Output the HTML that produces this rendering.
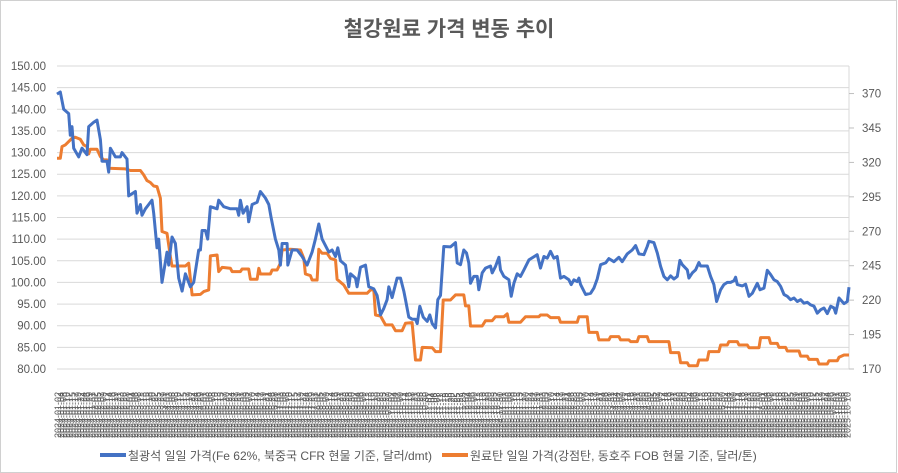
<!DOCTYPE html>
<html><head><meta charset="utf-8">
<style>
body{margin:0;background:#fff;}
svg{display:block;font-family:"Liberation Sans","Noto Sans CJK KR",sans-serif;}
</style></head>
<body>
<svg id="chart" width="898" height="473" viewBox="0 0 898 473">
<rect x="0.5" y="0.5" width="896" height="472" fill="#fff" stroke="#d0d0d0"/>
<text x="449" y="36" text-anchor="middle" font-size="21" font-weight="bold" fill="#595959" font-family="'Liberation Sans','Noto Sans CJK KR',sans-serif">철강원료 가격 변동 추이</text>
<g id="grid"></g>
<g id="yleft"></g>
<g id="yright"></g>
<g id="xlabels"></g>
<g id="series"></g>
<g>
<g>
<line x1="100" y1="455" x2="126" y2="455" stroke="#4472c4" stroke-width="4"/>
<text x="128" y="460" font-size="12" fill="#595959">철광석 일일 가격(Fe 62%, 북중국 CFR 현물 기준, 달러/dmt)</text>
</g>
<g>
<line x1="442" y1="455" x2="468" y2="455" stroke="#ed7d31" stroke-width="4"/>
<text x="470" y="460" font-size="12" fill="#595959">원료탄 일일 가격(강점탄, 동호주 FOB 현물 기준, 달러/톤)</text>
</g>
</g>
</svg>
<script>
const leftTicks=[80,85,90,95,100,105,110,115,120,125,130,135,140,145,150];
const rightTicks=[170,195,220,245,270,295,320,345,370];
const ironT=[170,180,190,205,210,215,220,235,245,260,265,280,290,300,305,320,325,330,345,360,365,380,385,395,405,410,420,425,435,445,455,460,470,475,485,500,505,515,525,535,545,555,570,580,595,600,605,615,622,630,650,655,670,690,710,715,720,728,740,745,755,770,780,795,805,812,825,835,840,845,860,862,875,890,905,920,935,945,955,965,985,995,1005,1012,1020,1035,1045,1050,1065,1070,1080,1095,1105,1120,1130,1140,1150,1160,1165,1175,1190,1200,1210,1215,1225,1235,1245,1250,1258,1268,1280,1288,1295,1305,1312,1320,1330,1350,1365,1370,1380,1390,1398,1405,1410,1420,1430,1435,1445,1455,1470,1475,1485,1495,1500,1510,1525,1532,1540,1550,1560,1570,1585,1610,1620,1630,1640,1650,1660,1670,1680,1690,1705,1712,1720,1730,1735,1740,1755,1770,1780,1790,1800,1815,1825,1840,1855,1865,1880,1895,1905,1915,1930,1940,1945,1960,1970,1980,1990,2000,2010,2020,2030,2038,2045,2060,2065,2075,2085,2095,2100,2120,2130,2140,2148,2160,2170,2180,2190,2200,2205,2210,2225,2235,2245,2255,2270,2278,2290,2300,2310,2320,2330,2340,2350,2360,2370,2380,2390,2400,2410,2420,2430,2440,2450,2460,2470,2480,2490,2500,2505,2515,2530,2540,2545];
const ironV=[143.5,144,140,139,134,136,131,129,131,129.5,136,137,137.5,133,128,128,125.5,131,129,129,130,128.5,120,120.5,121,116,118,115.5,117,118,119,116,108,110,100,107,104,110.5,109,101,98,102,99,100,107.5,107.5,112,112,110,117.5,117,119,117.5,117,117,115.5,119,116,117.5,114,118,118.5,121,119.5,118,115,110,107.5,104,109,109,104,107.5,107.5,106,104,107,110,113.5,110,107,107.5,106,108,105,104,99,102,101,99,103.5,104,99,98.5,97,92.5,94,96,99,96.5,101,101,98,96,92,91.5,91.5,90.5,94.5,92,91,92.5,90.5,89.5,96,97,108.3,108.2,109.2,104.5,104.1,107.5,106.8,104.5,99.8,101.4,101.4,98.3,102.2,103.3,103.8,102.2,103.7,105.8,102.9,101.4,100.6,96.8,99.8,102,101.4,102.9,105.2,106.4,103.3,106,105.6,107.2,105.6,106,101,101.4,100.6,99.5,100.6,100.2,101,99.5,97.2,97.5,98.7,100.8,104.1,104.5,105.5,104.8,105.8,104.8,106.6,107.5,108.5,106.6,106.4,108.3,109.5,109.2,106.8,103.7,101.4,100.6,101.5,100.8,101.4,105.1,104.1,102.9,101,102.2,102.9,104.6,103.8,103.8,101.4,99.5,95.6,98.3,99.5,100,100,100.4,101.2,99.5,99.2,99.6,96.8,97.5,99.8,98.3,98.7,102.8,101.8,100.6,100.2,99.1,97.2,96.8,96,96.4,95.6,96,95.2,95.4,94.8,94.5,92.9,93.7,94.1,92.8,94.5,94.1,92.9,96.4,95.1,95.6,98.9];
const coalT=[170,180,185,195,205,215,225,240,250,260,265,270,290,300,310,320,325,375,390,420,430,440,450,460,470,480,485,500,510,515,555,565,575,600,610,625,630,650,655,665,690,695,720,725,745,750,770,775,780,810,815,830,840,845,870,900,910,915,930,935,950,955,965,980,990,1005,1010,1030,1045,1100,1110,1120,1125,1140,1155,1175,1185,1205,1215,1235,1245,1260,1265,1295,1305,1320,1328,1350,1365,1390,1395,1405,1410,1445,1455,1475,1485,1510,1520,1525,1560,1575,1615,1620,1640,1650,1675,1680,1730,1735,1760,1765,1790,1795,1825,1830,1855,1860,1885,1890,1910,1915,1940,1945,2005,2010,2035,2040,2060,2065,2090,2095,2120,2125,2155,2160,2180,2185,2210,2215,2240,2245,2275,2280,2305,2310,2330,2335,2355,2360,2395,2400,2420,2425,2450,2455,2480,2485,2510,2515,2530,2545];
const coalV=[323,323,331.5,332.7,335.1,337.5,338.3,336.8,332.7,331.5,326.2,329.6,329.6,324.2,321.8,321.8,315.8,315.3,314.1,314.1,310.9,306.8,305.4,302.9,302.4,294,269.8,268.5,251.6,244.8,244.8,246.8,223.8,224.2,226.2,227.4,252.1,252.8,240.7,243.8,243.1,240.7,240.7,242.6,242.6,235.1,235.1,243.1,239,239,241.9,241.9,246.8,256.4,256.9,256.4,250.4,239,237.8,234.6,234.6,256.9,254,254,250.4,249.2,235.1,231,225,225,227.4,227.4,209.2,208.5,202,202,197.8,197.8,203.2,203.7,176.5,176.5,185.7,185.5,182.6,182.6,220.1,220.1,223.8,223.8,215.8,215.8,201.2,201.2,205.1,205.1,208,208,210,203.9,203.9,208,208,209.2,209.2,207.3,207.3,203.9,203.9,208,208,196.6,196.6,191.1,191.1,193.5,193.5,191.1,191.1,189.9,189.9,193.5,193.5,189.9,189.9,181.9,181.9,174.6,174.6,172.4,172.4,176.5,176.5,182.6,182.6,187.4,187.4,189.9,189.9,187.4,187.4,185.5,185.5,192.8,192.8,188.6,188.6,185.7,185.7,183.1,183.1,179.4,179.4,177,177,173.6,173.6,176,176,178.5,180.2,180.2];

const X0=57,X1=849,T0=170,T1=2545;
const xs=t=>X0+(t-T0)/(T1-T0)*(X1-X0);
const yL=v=>66+(150-v)*303/70;
const yR=v=>369-(v-170)*303/220;
const NS='http://www.w3.org/2000/svg';
function mk(tag,attrs,parent,txt){const e=document.createElementNS(NS,tag);for(const k in attrs)e.setAttribute(k,attrs[k]);if(txt!==undefined)e.textContent=txt;parent.appendChild(e);return e;}
const grid=document.getElementById('grid'),yl=document.getElementById('yleft'),yr=document.getElementById('yright'),xl=document.getElementById('xlabels'),ser=document.getElementById('series');
leftTicks.forEach(v=>{
  const g=mk('line',{x1:X0,x2:X1,y1:yL(v),y2:yL(v),stroke:'#d9d9d9','stroke-width':1},grid);
  
  
  const t=mk('text',{x:46,y:yL(v)+4,'text-anchor':'end','font-size':11.5,fill:'#595959'},yl,v.toFixed(2));
  
  
});
const ax=mk('line',{x1:X1,x2:X1,y1:66,y2:369,stroke:'#d9d9d9'},yr);


rightTicks.forEach(v=>{
  mk('line',{x1:X1,x2:X1+5,y1:yR(v),y2:yR(v),stroke:'#bfbfbf'},yr);
  const t=mk('text',{x:862,y:yR(v)+4,'font-size':11.5,fill:'#595959'},yr,String(v));
  
  
});
let d=new Date(Date.UTC(2024,0,2));
for(let x=X0+1;x<X1;x+=2.85){
  while(d.getUTCDay()===0||d.getUTCDay()===6)d=new Date(d.getTime()+86400000);
  const s=d.toISOString().slice(0,10);
  const t=mk('text',{transform:`translate(${x+3},438) rotate(-90)`,'font-size':9,fill:'#595959'},xl,s);
  
  
  d=new Date(d.getTime()+2*86400000);
}
function path(T,V,fy){return T.map((t,k)=>(k?'L':'M')+xs(t).toFixed(1)+' '+fy(V[k]).toFixed(1)).join(' ');}
const pc=mk('path',{d:path(coalT,coalV,yR),fill:'none',stroke:'#ed7d31','stroke-width':3,'stroke-linejoin':'round'},ser);


const pi=mk('path',{d:path(ironT,ironV,yL),fill:'none',stroke:'#4472c4','stroke-width':3,'stroke-linejoin':'round'},ser);


</script>
</body></html>
